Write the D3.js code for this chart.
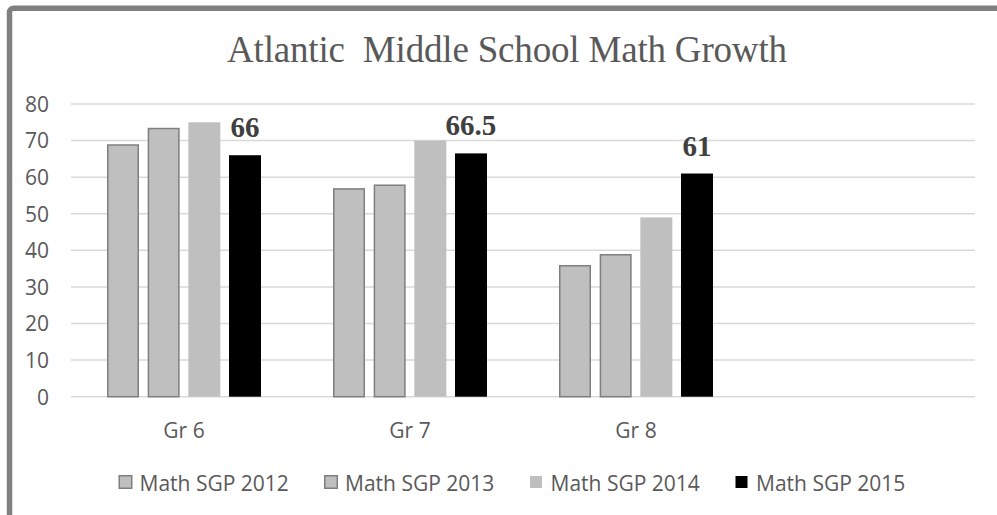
<!DOCTYPE html>
<html>
<head>
<meta charset="utf-8">
<script src="https://cdn.jsdelivr.net/npm/d3@7"></script>
<style>
  html, body { margin: 0; padding: 0; background: #ffffff; }
  svg { display: block; }
</style>
</head>
<body>
<svg id="chart" width="997" height="515"></svg>
<script>
// ---- data ----
const categories = ["Gr 6", "Gr 7", "Gr 8", ""];
const seriesNames = ["Math SGP 2012", "Math SGP 2013", "Math SGP 2014", "Math SGP 2015"];
const sgp2012 = [69, 57, 36];
const sgp2013 = [73.5, 58, 39];
const sgp2014 = [75, 70, 49];
const sgp2015 = [66, 66.5, 61];
const yTicks = [0, 10, 20, 30, 40, 50, 60, 70, 80];
const titleText = "Atlantic  Middle School Math Growth";

const seriesValues = [sgp2012, sgp2013, sgp2014, sgp2015];
const seriesStyle = [
  { fill: "#bfbfbf", stroke: "#7f7f7f", sw: 1.5 },
  { fill: "#bfbfbf", stroke: "#7f7f7f", sw: 1.5 },
  { fill: "#bfbfbf", stroke: "none", sw: 0 },
  { fill: "#000000", stroke: "none", sw: 0 }
];
const sansFont = "'Open Sans', 'Noto Sans', sans-serif";
const serifFont = "'Liberation Serif', 'Times New Roman', serif";

const svg = d3.select("#chart");

// frame (left + top border visible)
svg.append("rect")
  .attr("x", 9.5).attr("y", 8.3)
  .attr("width", 1100).attr("height", 700)
  .attr("rx", 4)
  .attr("fill", "#ffffff")
  .attr("stroke", "#808080")
  .attr("stroke-width", 5.5);

// title
svg.append("text")
  .attr("x", 507).attr("y", 62)
  .attr("text-anchor", "middle")
  .attr("font-family", serifFont)
  .attr("font-size", 37)
  .attr("fill", "#595959")
  .attr("textLength", 560)
  .attr("lengthAdjust", "spacing")
  .style("white-space", "pre")
  .text(titleText);

// scales
const plotLeft = 71, plotRight = 975;
const x0 = d3.scaleBand().domain(categories).range([plotLeft, plotRight])
  .paddingInner(0.3186).paddingOuter(0.1593);
const x1 = d3.scaleBand().domain(d3.range(seriesNames.length)).range([0, x0.bandwidth()])
  .paddingInner(0.213).paddingOuter(0);
const y = d3.scaleLinear().domain([0, 80]).range([396.7, 104]);

// gridlines
svg.append("g").selectAll("line").data(yTicks).join("line")
  .attr("x1", plotLeft).attr("x2", plotRight)
  .attr("y1", d => y(d)).attr("y2", d => y(d))
  .attr("stroke", "#d9d9d9").attr("stroke-width", 1.5);

// y axis labels
const yAxis = d3.axisLeft(y).tickValues(yTicks).tickSize(0).tickPadding(0);
const yg = svg.append("g").attr("transform", "translate(49,0)").call(yAxis);
yg.select(".domain").remove();
yg.selectAll("text")
  .attr("font-family", sansFont)
  .attr("font-size", 21)
  .attr("fill", "#595959")
  .attr("dy", "0.35em");

// x axis labels
const xAxis = d3.axisBottom(x0).tickSize(0).tickPadding(0);
const xg = svg.append("g").attr("transform", "translate(0,438)").call(xAxis);
xg.select(".domain").remove();
xg.selectAll("text")
  .attr("font-family", sansFont)
  .attr("font-size", 21)
  .attr("fill", "#595959")
  .attr("dy", 0)
  .attr("y", 0);

// bars
const barsData = [];
seriesValues.forEach((vals, si) => {
  vals.forEach((v, ci) => barsData.push({ si, ci, v }));
});
svg.append("g").selectAll("rect").data(barsData).join("rect")
  .attr("x", d => x0(categories[d.ci]) + x1(d.si) + (seriesStyle[d.si].sw ? 0.75 : 0))
  .attr("width", d => x1.bandwidth() - (seriesStyle[d.si].sw ? 1.5 : 0))
  .attr("y", d => y(d.v) + (seriesStyle[d.si].sw ? 0.75 : 0))
  .attr("height", d => y(0) - y(d.v) - (seriesStyle[d.si].sw ? 0.75 : 0))
  .attr("fill", d => seriesStyle[d.si].fill)
  .attr("stroke", d => seriesStyle[d.si].stroke)
  .attr("stroke-width", d => seriesStyle[d.si].sw);

// data labels for 2015
svg.append("g").selectAll("text").data(sgp2015).join("text")
  .attr("x", (d, i) => x0(categories[i]) + x1(3) + x1.bandwidth() / 2)
  .attr("y", d => y(d) - 18)
  .attr("text-anchor", "middle")
  .attr("font-family", serifFont)
  .attr("font-weight", "bold")
  .attr("font-size", 29)
  .attr("fill", "#404040")
  .text(d => d);

// legend
const legend = svg.append("g");
const legStart = 118.5, legStep = 205.5;
seriesNames.forEach((name, i) => {
  const g = legend.append("g").attr("transform", `translate(${legStart + i * legStep},0)`);
  const st = seriesStyle[i];
  if (st.sw) {
    g.append("rect").attr("x", 0.75).attr("y", 475.75).attr("width", 12.5).attr("height", 12.5)
      .attr("fill", st.fill).attr("stroke", st.stroke).attr("stroke-width", st.sw);
  } else {
    g.append("rect").attr("x", 0.5).attr("y", 476).attr("width", 12).attr("height", 12)
      .attr("fill", st.fill);
  }
  g.append("text")
    .attr("x", 21).attr("y", 491)
    .attr("font-family", sansFont)
    .attr("font-size", 21)
    .attr("fill", "#595959")
    .text(name);
});
</script>
</body>
</html>
